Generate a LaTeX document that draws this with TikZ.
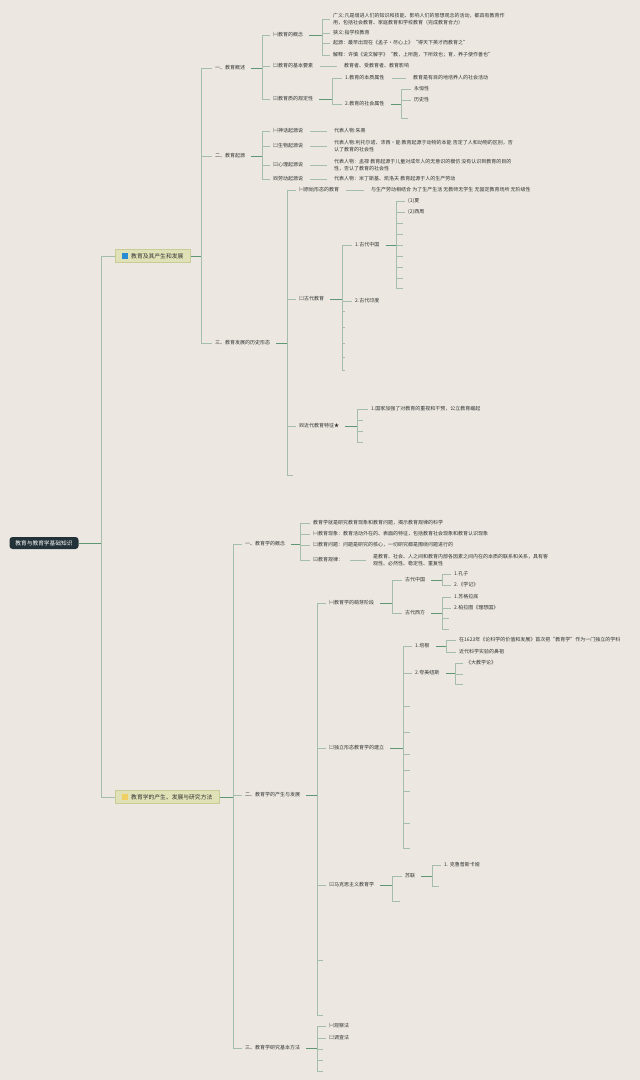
\documentclass[tikz,border=0pt]{standalone}
\usepackage{fontspec}
\setmainfont{Noto Sans CJK SC}
\definecolor{bgc}{RGB}{236,232,225}
\definecolor{brkc}{RGB}{165,190,172}
\definecolor{conc}{RGB}{95,150,115}
\definecolor{txtc}{RGB}{50,50,50}
\definecolor{rootc}{RGB}{35,50,56}
\definecolor{boxc}{RGB}{224,225,182}
\definecolor{boxd}{RGB}{200,204,150}
\definecolor{bluei}{RGB}{40,140,210}
\definecolor{yelli}{RGB}{240,208,100}
\tikzset{
  txt/.style={anchor=west,inner sep=0pt,text=txtc,align=left,font=\fontsize{5}{7}\selectfont},
  emp/.style={inner sep=0pt,minimum size=0pt},
  brk/.style={draw=brkc,line width=0.7pt},
  con/.style={draw=conc,line width=1pt},
  rootbox/.style={fill=rootc,rounded corners=3pt,text=white,font=\fontsize{5.7}{6}\selectfont,minimum height=12pt,inner xsep=6pt,inner ysep=0pt},
  mainbox/.style={anchor=west,fill=boxc,draw=boxd,line width=0.4pt,minimum height=13pt,inner xsep=7pt,inner ysep=0pt,text=txtc,font=\fontsize{5.8}{6}\selectfont}
}
\newcommand\mmb[4][6pt]{%
  \coordinate (mmbx) at (#3,0);
  \draw[con] ([xshift=#1]#2.east) -- (mmbx |- #2.east);
  \foreach \ch in {#4}{\draw[brk] (mmbx |- #2.east) -- (mmbx |- \ch.west) -- ([xshift=-3pt]\ch.west);}
}
\newcommand\mms[2]{\draw[brk] ([xshift=7pt]#1.east) -- ([xshift=-7pt]#2.west);}
\begin{document}
\begin{tikzpicture}[x=1pt,y=-1pt]
\fill[bgc] (0,0) rectangle (640,1080);
\useasboundingbox (0,0) rectangle (640,1080);

% root and main boxes
\node[rootbox] (R) at (44,543) {教育与教育学基础知识};
\node[mainbox] (A) at (115,256) {\textcolor{bluei}{\rule{6pt}{6pt}}\hspace{3pt}教育及其产生和发展};
\node[mainbox] (B) at (115,797) {\textcolor{yelli}{\rule{6pt}{6pt}}\hspace{3pt}教育学的产生、发展与研究方法};
\coordinate (rb) at (101,0);
\draw[con] (R.east) -- (rb |- R.east);
\draw[brk] (rb |- R.east) -- (rb |- A.west) -- (A.west);
\draw[brk] (rb |- R.east) -- (rb |- B.west) -- (B.west);

% ===== section 1 =====
\node[txt] (s1) at (215,68) {一、教育概述};
\node[txt] (s2) at (215,156) {二、教育起源};
\node[txt] (s3) at (215,343) {三、教育发展的历史形态};
\mmb[0pt]{A}{201}{s1,s2,s3}

\node[txt] (c11) at (273,35) {㈠教育的概念};
\node[txt] (c12) at (273,66) {㈡教育的基本要素};
\node[txt] (c13) at (273,99) {㈢教育质的规定性};
\mmb{s1}{262}{c11,c12,c13}

\node[txt] (d1) at (333,19) {广义:凡是增进人们的知识和技能、影响人们的思想观念的活动，都具有教育作\\用，包括社会教育、家庭教育和学校教育（完成教育合力）};
\node[txt] (d2) at (333,33) {狭义:指学校教育};
\node[txt] (d3) at (333,43) {起源：最早出现在《孟子·尽心上》“得天下英才而教育之”};
\node[txt] (d4) at (333,55) {解释：许慎《说文解字》“教，上所施，下所效也；育，养子使作善也”};
\mmb{c11}{322}{d1,d2,d3,d4}

\node[txt] (e1) at (344,66) {教育者、受教育者、教育影响};
\mms{c12}{e1}

\node[txt] (f1) at (345,78) {1.教育的本质属性};
\node[txt] (f2) at (345,104) {2.教育的社会属性};
\mmb{c13}{332}{f1,f2}
\node[txt] (f1a) at (413,78) {教育是有目的地培养人的社会活动};
\mms{f1}{f1a}
\node[txt] (g1) at (414,89) {永恒性};
\node[txt] (g2) at (414,100) {历史性};
\node[emp] (g3) at (411,118) {};
\mmb{f2}{401}{g1,g2,g3}

\node[txt] (h1) at (273,131) {㈠神话起源说};
\node[txt] (h2) at (273,146) {㈡生物起源说};
\node[txt] (h3) at (273,165) {㈢心理起源说};
\node[txt] (h4) at (273,179) {㈣劳动起源说};
\mmb{s2}{262}{h1,h2,h3,h4}
\node[txt] (i1) at (334,131) {代表人物:朱熹};
\node[txt] (i2) at (334,146) {代表人物:利托尔诺、沛西·能 教育起源于动物的本能 否定了人和动物的区别，否\\认了教育的社会性};
\node[txt] (i3) at (334,165) {代表人物：孟禄 教育起源于儿童对成年人的无意识的模仿 没有认识到教育的目的\\性，否认了教育的社会性};
\node[txt] (i4) at (334,179) {代表人物：米丁斯基、凯洛夫 教育起源于人的生产劳动};
\mms{h1}{i1}
\mms{h2}{i2}
\mms{h3}{i3}
\mms{h4}{i4}

\node[txt] (j1) at (299,190) {㈠原始形态的教育};
\node[txt] (j2) at (299,299) {㈡古代教育};
\node[txt] (j3) at (299,426) {㈣近代教育特征★};
\node[emp] (j4) at (296,475) {};
\mmb{s3}{287}{j1,j2,j3,j4}
\node[txt] (j1a) at (371,190) {与生产劳动相结合 为了生产生活 无教师无学生 无固定教育场所 无阶级性};
\mms{j1}{j1a}

\node[txt] (k1) at (355,245) {1.古代中国};
\node[txt] (k2) at (355,301) {2.古代印度};
\node[emp] (k3) at (348,311) {};
\node[emp] (k4) at (348,327) {};
\node[emp] (k5) at (348,343) {};
\node[emp] (k6) at (348,357) {};
\node[emp] (k7) at (348,370) {};
\mmb{j2}{342}{k1,k2,k3,k4,k5,k6,k7}

\node[txt] (m1) at (408,201) {(1)夏};
\node[txt] (m2) at (408,212) {(2)西周};
\node[emp] (m3) at (406,223) {};
\node[emp] (m4) at (406,234) {};
\node[emp] (m5) at (406,245) {};
\node[emp] (m6) at (406,256) {};
\node[emp] (m7) at (406,267) {};
\node[emp] (m8) at (406,278) {};
\node[emp] (m9) at (406,288) {};
\mmb{k1}{396}{m1,m2,m3,m4,m5,m6,m7,m8,m9}

\node[txt] (n1) at (371,409) {1.国家加强了对教育的重视和干预，公立教育崛起};
\node[emp] (n2) at (366,420) {};
\node[emp] (n3) at (366,431) {};
\node[emp] (n4) at (366,442) {};
\mmb{j3}{357}{n1,n2,n3,n4}

% ===== section 2 =====
\node[txt] (t1) at (245,544) {一、教育学的概念};
\node[txt] (t2) at (245,795) {二、教育学的产生与发展};
\node[txt] (t3) at (245,1048) {三、教育学研究基本方法};
\mmb[0pt]{B}{233}{t1,t2,t3}

\node[txt] (u1) at (313,523) {教育学就是研究教育现象和教育问题，揭示教育规律的科学};
\node[txt] (u2) at (313,534) {㈠教育现象：教育活动外在的、表面的特征，包括教育社会现象和教育认识现象};
\node[txt] (u3) at (313,545) {㈡教育问题：问题是研究的核心，一切研究都是围绕问题进行的};
\node[txt] (u4) at (313,560) {㈢教育规律：};
\mmb{t1}{300}{u1,u2,u3,u4}
\node[txt] (u5) at (373,560) {是教育、社会、人之间和教育内部各因素之间内在的本质的联系和关系，具有客\\观性、必然性、稳定性、重复性};
\mms{u4}{u5}

\node[txt] (v1) at (329,603) {㈠教育学的萌芽阶段};
\node[txt] (v2) at (329,748) {㈡独立形态教育学的建立};
\node[txt] (v3) at (329,885) {㈢马克思主义教育学};
\node[emp] (v4) at (326,960) {};
\node[emp] (v5) at (326,1015) {};
\mmb{t2}{317}{v1,v2,v3,v4,v5}

\node[txt] (w1) at (405,580) {古代中国};
\node[txt] (w2) at (405,613) {古代西方};
\mmb{v1}{392}{w1,w2}
\node[txt] (w11) at (454,574) {1.孔子};
\node[txt] (w12) at (454,585) {2.《学记》};
\mmb{w1}{442}{w11,w12}
\node[txt] (w21) at (454,597) {1.苏格拉底};
\node[txt] (w22) at (454,608) {2.柏拉图《理想国》};
\node[emp] (w23) at (452,618) {};
\node[emp] (w24) at (452,629) {};
\mmb{w2}{442}{w21,w22,w23,w24}

\node[txt] (x1) at (415,646) {1.培根};
\node[txt] (x2) at (415,673) {2.夸美纽斯};
\node[emp] (x3) at (413,706) {};
\node[emp] (x4) at (413,732) {};
\node[emp] (x5) at (413,754) {};
\node[emp] (x6) at (413,770) {};
\node[emp] (x7) at (413,791) {};
\node[emp] (x8) at (413,823) {};
\node[emp] (x9) at (413,848) {};
\mmb{v2}{403}{x1,x2,x3,x4,x5,x6,x7,x8,x9}
\node[txt] (x11) at (459,640) {在1623年《论科学的价值和发展》首次把“教育学”作为一门独立的学科};
\node[txt] (x12) at (459,652) {近代科学实验的鼻祖};
\mmb{x1}{446}{x11,x12}
\node[txt] (x21) at (466,663) {《大教学论》};
\node[emp] (x22) at (466,674) {};
\node[emp] (x23) at (466,684) {};
\mmb{x2}{455}{x21,x22,x23}

\node[txt] (y1) at (405,876) {苏联};
\node[emp] (y2) at (403,901) {};
\mmb{v3}{392}{y1,y2}
\node[txt] (y11) at (444,865) {1. 克鲁普斯卡娅};
\node[emp] (y12) at (442,886) {};
\mmb{y1}{432}{y11,y12}

\node[txt] (z1) at (329,1026) {㈠观察法};
\node[txt] (z2) at (329,1038) {㈡调查法};
\node[emp] (z3) at (326,1049) {};
\node[emp] (z4) at (326,1060) {};
\node[emp] (z5) at (326,1071) {};
\mmb{t3}{317}{z1,z2,z3,z4,z5}
\end{tikzpicture}
\end{document}
